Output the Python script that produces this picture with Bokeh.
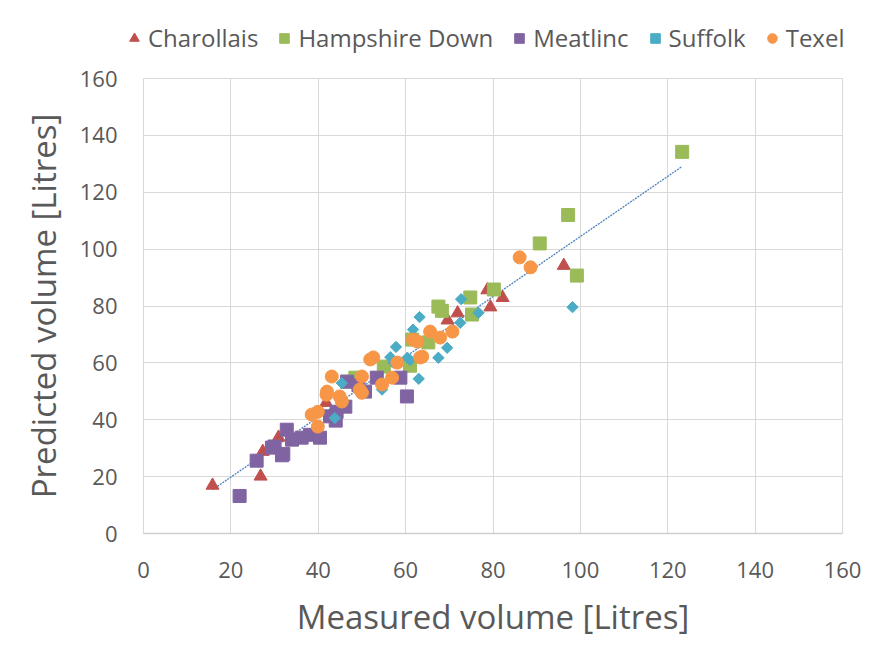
import numpy as np
from bokeh.plotting import figure
from bokeh.models import Legend, LegendItem, Range1d, FixedTicker
from bokeh.embed import file_html
from bokeh.resources import INLINE

# ---- data ----
charollais_x = [15.8, 26.8, 27.3, 30.9, 41.8, 69.6, 71.9, 78.7, 79.4, 82.2, 96.2]
charollais_y = [16.9, 20.1, 28.8, 33.8, 46.0, 75.0, 77.5, 85.6, 79.6, 82.9, 94.2]

hampshire_x = [46.7, 48.5, 55.0, 61.0, 61.5, 65.2, 67.5, 68.3, 74.8, 75.2, 80.2, 90.7, 97.2, 99.2, 123.3]
hampshire_y = [53.4, 54.8, 58.7, 59.0, 68.2, 67.2, 79.8, 78.3, 83.0, 77.0, 85.8, 102.0, 112.0, 90.7, 134.2]

meatlinc_x = [22.0, 25.9, 29.4, 30.0, 31.7, 32.0, 32.8, 34.0, 36.2, 38.1, 40.4, 42.7, 44.2, 44.0,
              46.2, 46.6, 49.2, 50.7, 53.4, 58.8, 60.3]
meatlinc_y = [13.2, 25.6, 30.2, 30.6, 27.5, 28.0, 36.5, 33.0, 33.7, 34.7, 33.7, 41.2, 42.8, 39.7,
              44.6, 53.4, 52.2, 49.9, 54.8, 54.8, 48.2]

suffolk_x = [43.8, 45.4, 54.6, 56.5, 57.2, 57.8, 60.4, 61.0, 61.7, 63.0, 63.2, 67.5, 69.5, 72.5, 72.7, 76.7, 98.2]
suffolk_y = [40.6, 52.9, 50.6, 62.0, 60.1, 65.6, 61.8, 61.0, 71.7, 54.4, 76.1, 61.8, 65.3, 74.1, 82.4, 77.6, 79.6]

texel_x = [38.5, 39.9, 39.9, 41.9, 42.0, 43.1, 44.9, 45.4, 49.5, 50.0, 50.0, 51.9, 52.6, 54.6, 56.9,
           58.1, 61.7, 62.7, 63.3, 63.8, 65.6, 67.9, 70.7, 86.1, 88.6]
texel_y = [41.8, 42.8, 37.6, 48.8, 49.9, 55.2, 48.2, 46.4, 50.6, 55.2, 49.5, 61.2, 61.9, 52.4, 54.8,
           60.1, 68.2, 67.5, 61.9, 62.2, 71.0, 68.9, 71.0, 97.1, 93.6]

series_names = ["Charollais", "Hampshire Down", "Meatlinc", "Suffolk", "Texel"]
ticks = [0, 20, 40, 60, 80, 100, 120, 140, 160]

TEXT = "#595959"
GRID = "#D9D9D9"
FONT = "Open Sans"

styles = [
    dict(marker="triangle", size=13, fill_color="#C0504D", line_color="#C0504D"),
    dict(marker="square", size=13, fill_color="#9BBB59", line_color="#9BBB59"),
    dict(marker="square", size=13, fill_color="#8064A2", line_color="#8064A2"),
    dict(marker="square", size=8, angle=np.pi / 4, fill_color="#4BACC6", line_color="#4BACC6"),
    dict(marker="circle", size=13, fill_color="#F79646", line_color="#F79646"),
]
xs = [charollais_x, hampshire_x, meatlinc_x, suffolk_x, texel_x]
ys = [charollais_y, hampshire_y, meatlinc_y, suffolk_y, texel_y]

# ---------------- legend strip (separate root, placed above the chart) ----------------
lf = figure(width=854, height=63, x_range=Range1d(0, 1), y_range=Range1d(0, 1),
            min_border_left=0, min_border_right=0, min_border_top=0, min_border_bottom=0,
            output_backend="svg", toolbar_location=None)
lf.xaxis.visible = False
lf.yaxis.visible = False
lf.xgrid.visible = False
lf.ygrid.visible = False
lf.outline_line_color = None
lf.background_fill_color = "white"
lf.border_fill_color = "white"

items = []
for name, x, y, st in zip(series_names, xs, ys, styles):
    r = lf.scatter(x, y, **st)  # all values lie outside this strip's 0..1 ranges
    items.append(LegendItem(label=name, renderers=[r]))

legend = Legend(items=items, orientation="horizontal", location=(122, 9))
legend.label_text_font = FONT
legend.label_text_font_size = "24px"
legend.label_text_color = TEXT
legend.border_line_color = None
legend.background_fill_alpha = 0
legend.glyph_width = 24
legend.glyph_height = 24
legend.label_standoff = 2
legend.spacing = 14
legend.padding = 4
legend.margin = 0
lf.add_layout(legend, "center")

# ---------------- main chart ----------------
p = figure(frame_width=699, frame_height=455,
           min_border_left=143, min_border_right=20, min_border_top=15, min_border_bottom=104,
           x_range=Range1d(0, 160), y_range=Range1d(0, 160),
           output_backend="svg", toolbar_location=None)
p.background_fill_color = "white"
p.border_fill_color = "white"
p.outline_line_color = GRID

for ax in (p.xaxis[0], p.yaxis[0]):
    ax.ticker = FixedTicker(ticks=ticks)
    ax.major_tick_line_color = None
    ax.minor_tick_line_color = None
    ax.major_label_text_font = FONT
    ax.major_label_text_font_size = "22px"
    ax.major_label_text_color = TEXT
    ax.axis_label_text_font = FONT
    ax.axis_label_text_font_size = "33px"
    ax.axis_label_text_font_style = "normal"
    ax.axis_label_text_color = TEXT

p.xaxis.axis_label = "Measured volume [Litres]"
p.yaxis.axis_label = "Predicted volume [Litres]"
p.xaxis.axis_line_color = "#CFCFCF"
p.xaxis.axis_line_width = 1.5
p.yaxis.axis_line_color = None
p.xaxis.major_label_standoff = 22
p.xaxis.axis_label_standoff = 13
p.yaxis.major_label_standoff = 20
p.yaxis.axis_label_standoff = 11

p.xgrid.ticker = FixedTicker(ticks=ticks)
p.ygrid.ticker = FixedTicker(ticks=ticks)
p.xgrid.grid_line_color = GRID
p.ygrid.grid_line_color = GRID

# trendline (least-squares fit over all points)
all_x = np.array(sum(xs, []))
all_y = np.array(sum(ys, []))
slope, intercept = np.polyfit(all_x, all_y, 1)
tx = np.array([all_x.min(), all_x.max()])
p.line(tx, slope * tx + intercept, line_color="#4F81BD", line_width=1.3, line_dash="2 1")

for x, y, st in zip(xs, ys, styles):
    p.scatter(x, y, **st)

open("out.html", "w").write(file_html([lf, p], INLINE))
